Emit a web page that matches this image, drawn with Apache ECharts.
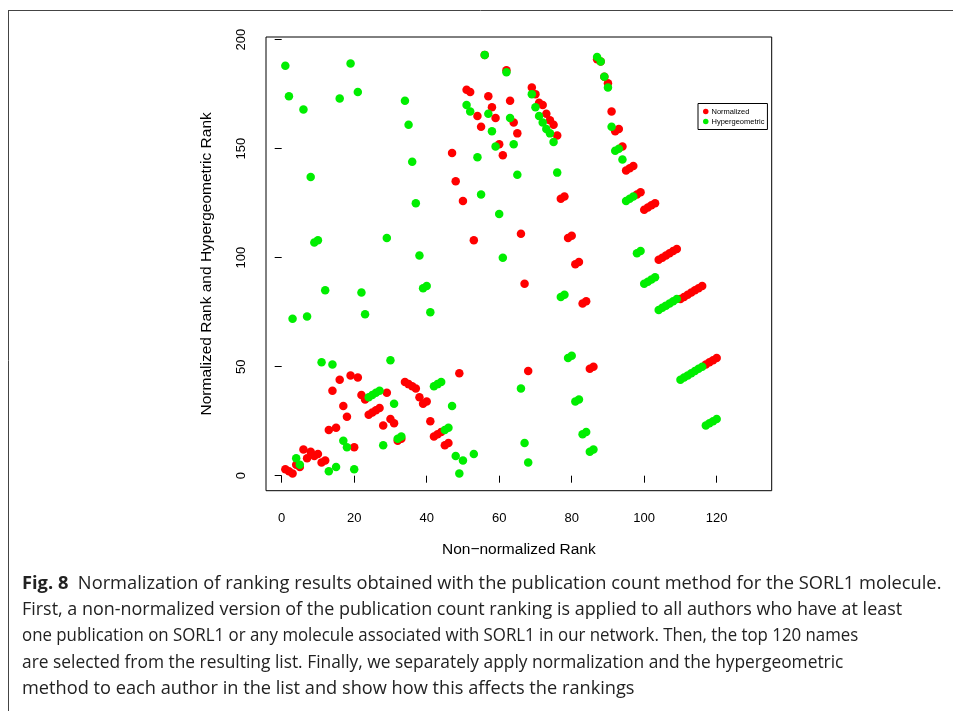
<!DOCTYPE html>
<html>
<head>
<meta charset="utf-8">
<script src="https://cdn.jsdelivr.net/npm/echarts@6/dist/echarts.min.js"></script>
<style>
html,body{margin:0;padding:0;background:#fff;}
#chart{width:953px;height:711px;}
</style>
</head>
<body>
<div id="chart"></div>
<script>
// Non-normalized rank (x)
const nonNormalizedRank = [1,2,3,4,5,6,7,8,9,10,11,12,13,14,15,16,17,18,19,20,21,22,23,24,25,26,27,28,29,30,31,32,33,34,35,36,37,38,39,40,41,42,43,44,45,46,47,48,49,50,51,52,53,54,55,56,57,58,59,60,61,62,63,64,65,66,67,68,69,70,71,72,73,74,75,76,77,78,79,80,81,82,83,84,85,86,87,88,89,90,91,92,93,94,95,96,97,98,99,100,101,102,103,104,105,106,107,108,109,110,111,112,113,114,115,116,117,118,119,120];
// Normalized rank (red)
const normalizedRank = [3,2,1,5,4,12,8,11,9,10,
  6,7,21,39,22,44,32,27,46,13,
  45,37,35,28,29,30,31,23,38,26,
  24,16,17,43,42,41,40,36,33,34,
  25,18,19,20,14,15,148,135,47,126,
  177,176,108,165,160,193,174,169,164,152,
  147,186,172,162,157,111,88,48,178,175,
  171,170,166,163,161,156,127,128,109,110,
  97,98,79,80,49,50,191,190,183,180,
  167,158,159,151,140,141,142,129,130,122,
  123,124,125,99,100,101,102,103,104,81,
  82,83,84,85,86,87,51,52,53,54];
// Hypergeometric rank (green)
const hypergeometricRank = [188,174,72,8,5,168,73,137,107,108,
  52,85,2,51,4,173,16,13,189,3,
  176,84,74,36,37,38,39,14,109,53,
  33,17,18,172,161,144,125,101,86,87,
  75,41,42,43,21,22,32,9,1,7,
  170,167,10,146,129,193,166,158,151,120,
  100,185,164,152,138,40,15,6,175,169,
  165,162,159,157,153,139,82,83,54,55,
  34,35,19,20,11,12,192,190,183,178,
  160,149,150,145,126,127,128,102,103,88,
  89,90,91,76,77,78,79,80,81,44,
  45,46,47,48,49,50,23,24,25,26];
const xTicks = [0,20,40,60,80,100,120];
const yTicks = [0,50,100,150,200];
const seriesNames = ['Normalized','Hypergeometric'];
const captionLines = [
  '{b|Fig. 8}  Normalization of ranking results obtained with the publication count method for the SORL1 molecule.',
  'First, a non-normalized version of the publication count ranking is applied to all authors who have at least',
  'one publication on SORL1 or any molecule associated with SORL1 in our network. Then, the top 120 names',
  'are selected from the resulting list. Finally, we separately apply normalization and the hypergeometric',
  'method to each author in the list and show how this affects the rankings'
];
// horizontal fit of each caption line to the reference width
const captionScale = [1.045, 1.025, 0.962, 0.992, 1.04];

const redPts = nonNormalizedRank.map((x,i)=>[x, normalizedRank[i]]);
const greenPts = nonNormalizedRank.map((x,i)=>[x, hypergeometricRank[i]]);

const FONT = '"Liberation Sans", Arial, sans-serif';
const CAPFONT = '"Open Sans", sans-serif';
const CAPSIZE = 17.5;
const chart = echarts.init(document.getElementById('chart'), null, {renderer:'canvas'});

const graphics = [
  {type:'line', shape:{x1:8,y1:10.5,x2:953,y2:10.5}, style:{stroke:'#444',lineWidth:1}, silent:true},
  {type:'line', shape:{x1:8.5,y1:10,x2:8.5,y2:711}, style:{stroke:'#444',lineWidth:1}, silent:true}
];
captionLines.forEach((t,i)=>{
  graphics.push({
    type:'text', x:22, y:575 + i*26.2, scaleX:captionScale[i], originX:0, originY:0, silent:true,
    style:{
      text:t, x:0, y:0, verticalAlign:'top', align:'left', fill:'#222', font: CAPSIZE + 'px ' + CAPFONT,
      rich:{b:{fontWeight:'bold', fontSize:CAPSIZE, fontFamily:CAPFONT, fill:'#222'}}
    }
  });
});

chart.setOption({
  animation:false,
  backgroundColor:'#fff',
  grid:{left:266, top:37, width:505.7, height:453.7, show:true, borderColor:'#000', borderWidth:1, backgroundColor:'transparent'},
  legend:{
    data:seriesNames, orient:'vertical', left:698, top:103.5,
    borderColor:'#000', borderWidth:1, padding:[4,3,4,5], itemGap:2,
    itemWidth:5.5, itemHeight:5.5, icon:'circle',
    textStyle:{fontFamily:FONT, fontSize:7.5, color:'#000', padding:[0,0,0,-2]},
    backgroundColor:'#fff'
  },
  xAxis:{
    type:'value', min:-4.33, max:135.17,
    name:'Non\u2212normalized Rank', nameLocation:'middle', nameGap:51,
    nameTextStyle:{fontFamily:FONT, fontSize:15.5, color:'#000'},
    axisLine:{show:false},
    splitLine:{show:false},
    axisTick:{show:true, customValues:xTicks, length:7, inside:false, lineStyle:{color:'#000'}},
    axisLabel:{customValues:xTicks, margin:21, fontFamily:FONT, fontSize:13, color:'#000'}
  },
  yAxis:{
    type:'value', min:-6.88, max:201.2,
    name:'Normalized Rank and Hypergeometric Rank', nameLocation:'middle', nameGap:51,
    nameTextStyle:{fontFamily:FONT, fontSize:15.5, color:'#000'},
    axisLine:{show:false},
    splitLine:{show:false},
    axisTick:{show:true, customValues:yTicks, length:7, inside:false, lineStyle:{color:'#000'}},
    axisLabel:{customValues:yTicks, rotate:90, margin:18, fontFamily:FONT, fontSize:13, color:'#000'}
  },
  series:[
    {name:seriesNames[0], type:'scatter', data:redPts, symbol:'circle', symbolSize:8.5,
     itemStyle:{color:'#ff0000', opacity:1}, emphasis:{disabled:true}},
    {name:seriesNames[1], type:'scatter', data:greenPts, symbol:'circle', symbolSize:8.5,
     itemStyle:{color:'#00ee00', opacity:1}, emphasis:{disabled:true}}
  ],
  graphic:graphics
});
</script>
</body>
</html>
